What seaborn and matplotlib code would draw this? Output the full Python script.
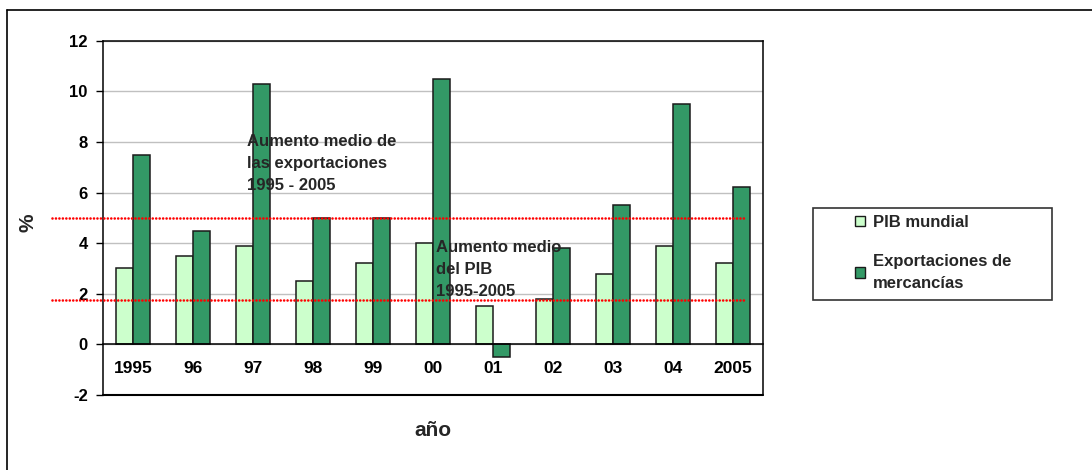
import pandas as pd
import seaborn as sns
import matplotlib.pyplot as plt
from matplotlib.lines import Line2D
from matplotlib.patches import Patch, Rectangle
from matplotlib.transforms import blended_transform_factory

# datos
anios = ["1995", "96", "97", "98", "99", "00", "01", "02", "03", "04", "2005"]
pib_mundial = [3.0, 3.5, 3.9, 2.5, 3.2, 4.0, 1.5, 1.8, 2.8, 3.9, 3.2]
exportaciones = [7.5, 4.5, 10.3, 5.0, 5.0, 10.5, -0.5, 3.8, 5.5, 9.5, 6.2]
series = ["PIB mundial", "Exportaciones de\nmercancías"]
media_export = 5.0
media_pib = 1.75
yticks = [-2, 0, 2, 4, 6, 8, 10, 12]

claro = "#CCFFCC"
oscuro = "#339966"

sns.set_theme(style="white")
plt.rcParams['font.family'] = ['Liberation Sans', 'DejaVu Sans']
plt.rcParams['font.weight'] = 'bold'

df = pd.DataFrame({
    "año": anios * 2,
    "valor": pib_mundial + exportaciones,
    "serie": [series[0]] * len(anios) + [series[1]] * len(anios),
})

W, H = 1092, 470
fig = plt.figure(figsize=(W / 100, H / 100), dpi=100)
ax = fig.add_axes([103 / W, 1 - 395 / H, 660 / W, 354.3 / H])

sns.barplot(data=df, x="año", y="valor", hue="serie", order=anios,
            hue_order=series, palette=[claro, oscuro], saturation=1,
            width=0.57, edgecolor="#1a1a1a", linewidth=1.1, legend=False,
            ax=ax)

ax.set_ylim(-2, 12)
ax.set_xlim(-0.5, len(anios) - 0.5)
ax.set_yticks(yticks)
ax.set_yticklabels([str(v) for v in yticks], fontsize=12, fontweight="bold")
ax.set_xticks(range(len(anios)))
ax.set_xticklabels(anios, fontsize=12.5, fontweight="bold")
ax.set_xticks([i + 0.5 for i in range(len(anios) - 1)], minor=True)
ax.tick_params(axis="x", which="major", length=0, pad=12, colors="black",
               labelsize=12.5)
ax.tick_params(axis="x", which="minor", length=5, width=1, direction="out",
               color="black")
ax.tick_params(axis="y", length=5, width=1, pad=6, direction="out",
               left=True, colors="black")
ax.set_xlabel("")
ax.set_ylabel("")

ax.yaxis.grid(True, color="#C0C0C0", linewidth=1)
ax.set_axisbelow(True)

ax.spines["bottom"].set_position(("data", 0))
for s in ["left", "top", "right", "bottom"]:
    ax.spines[s].set_color("black")
    ax.spines[s].set_linewidth(1.1)
ax.axhline(-2, color="black", linewidth=1.5, clip_on=False, zorder=5)

# lineas de promedio (rojas punteadas)
tr = blended_transform_factory(fig.transFigure, ax.transData)
for yv in [media_export, media_pib]:
    ax.add_line(Line2D([52 / W, 745 / W], [yv, yv], transform=tr,
                       color="#FF0000", linewidth=1.9,
                       linestyle=(0, (0.01, 1.3)), dash_capstyle="round",
                       clip_on=False, zorder=6))

fig.text(247 / W, 1 - 134 / H, "Aumento medio de\nlas exportaciones\n1995 - 2005",
         fontsize=12, fontweight="bold", va="top", ha="left",
         linespacing=1.58, zorder=7)
fig.text(436 / W, 1 - 240 / H, "Aumento medio\ndel PIB\n1995-2005",
         fontsize=12, fontweight="bold", va="top", ha="left",
         linespacing=1.58, zorder=7)

fig.text(28 / W, 1 - 223 / H, "%", rotation=90, fontsize=15,
         fontweight="bold", ha="center", va="center")
fig.text(433 / W, 1 - 430 / H, "año", fontsize=15, fontweight="bold",
         ha="center", va="center")

# leyenda
fig.patches.append(Rectangle((813 / W, 1 - 300 / H), 239 / W, 92 / H,
                             transform=fig.transFigure, fill=False,
                             edgecolor="#333333", linewidth=1.2))
handles = [Patch(facecolor=claro, edgecolor="#1a1a1a", linewidth=1),
           Patch(facecolor=oscuro, edgecolor="#1a1a1a", linewidth=1)]
leg = fig.legend(handles, series, loc="upper left",
                 bbox_to_anchor=(855 / W, 1 - 215 / H), frameon=False,
                 prop={"weight": "bold", "size": 12},
                 handlelength=0.6, handleheight=0.6, handletextpad=0.5,
                 labelspacing=1.45, borderpad=0, borderaxespad=0)
leg.get_texts()[1].set_linespacing(1.58)

# marco exterior
fig.add_artist(Line2D([7 / W, 7 / W], [0, 1 - 10 / H], transform=fig.transFigure,
                      color="black", linewidth=1.2))
fig.add_artist(Line2D([7 / W, 1], [1 - 10 / H, 1 - 10 / H],
                      transform=fig.transFigure, color="black", linewidth=1.2))

fig.savefig("out.png", dpi=100)
